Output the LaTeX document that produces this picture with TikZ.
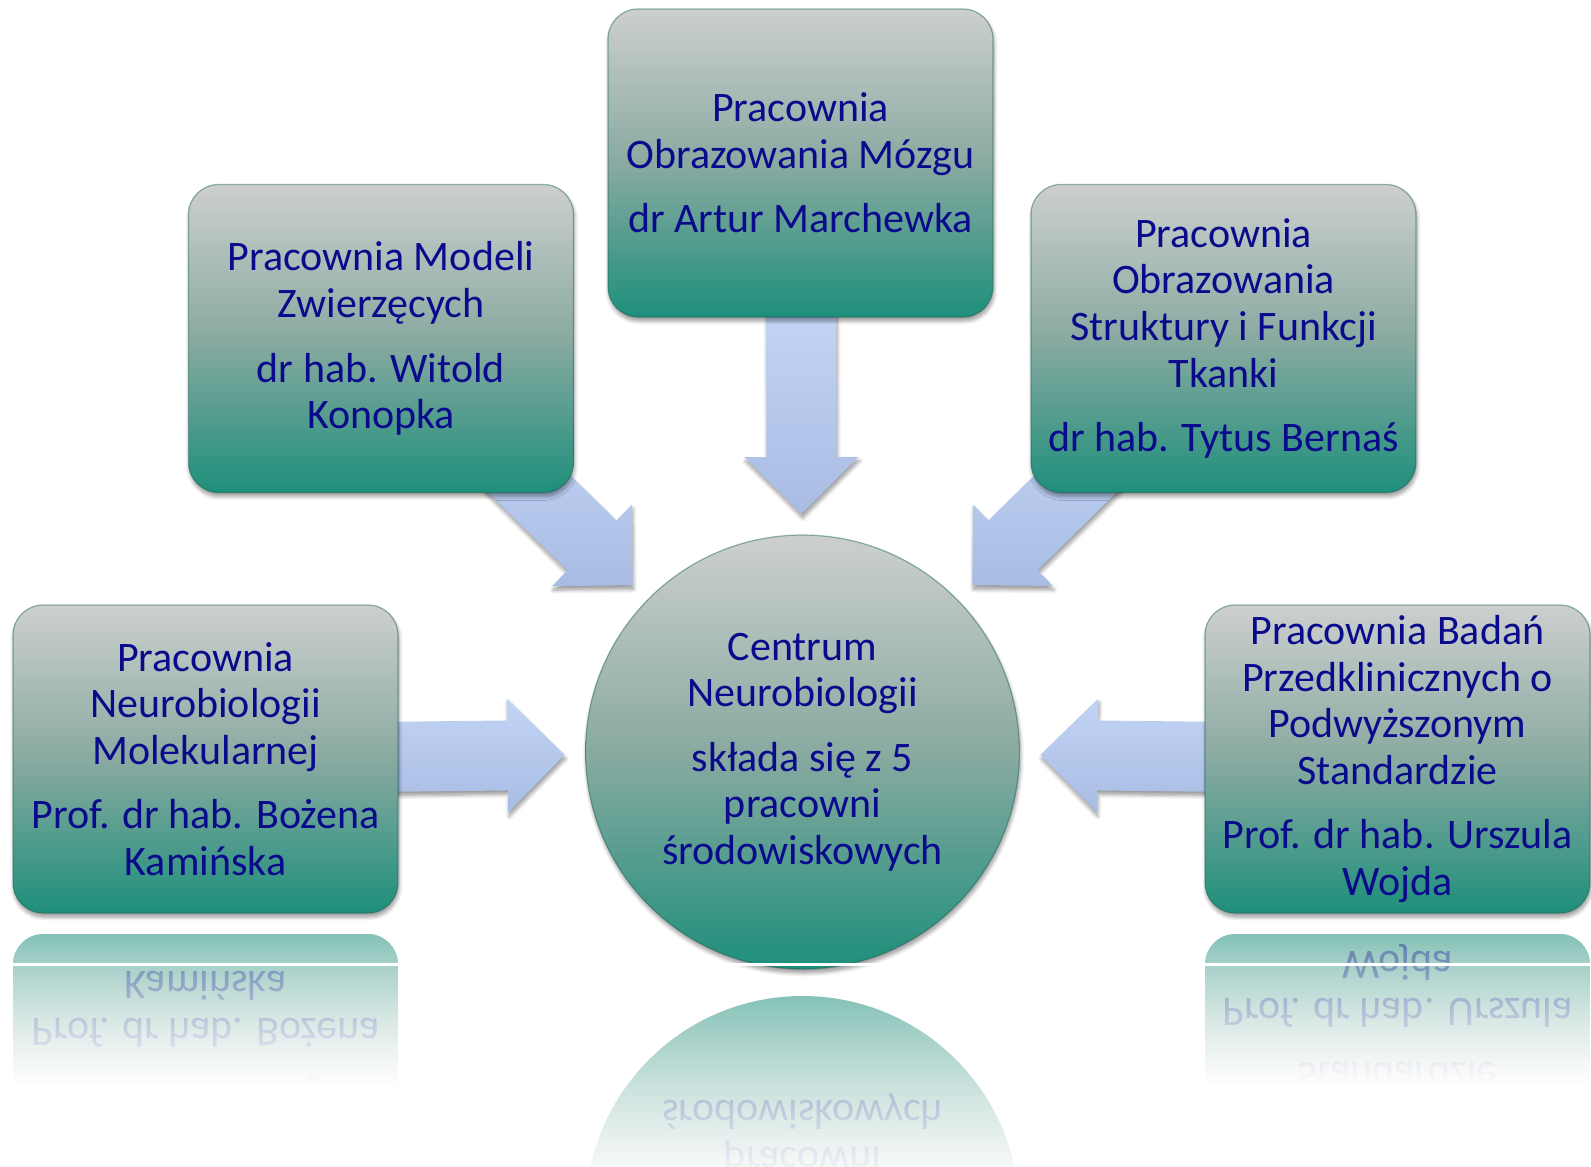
\documentclass[tikz,border=0pt]{standalone}
\usepackage{fontspec}
\setmainfont{Carlito}
\usetikzlibrary{calc}
\usetikzlibrary{backgrounds}
\usetikzlibrary{fadings}
\usetikzlibrary{shadows.blur}

\definecolor{labtop}{RGB}{205,207,206}
\definecolor{labmid}{RGB}{137,170,161}
\definecolor{labbot}{RGB}{30,143,123}
\definecolor{labedge}{RGB}{22,96,84}
\definecolor{labtext}{RGB}{10,10,140}
\definecolor{feedtop}{RGB}{194,212,245}
\definecolor{feedbot}{RGB}{168,188,227}

% white wash over the mirror images, clear at the top
\tikzfading[name=fade down, top color=transparent!100, bottom color=transparent!0]

% block arrow out of lab #1 into hub #2
\newcommand\feed[2]{%
  \path[feed] let \p1=($(#2.center)!119pt!(#1.center)$),  % tip
                  \p2=($(\p1)!28.5pt!(#1.center)$),       % head base
                  \p3=($(\p1)!100pt!(#1.center)$) in      % tail, hidden under the lab
    (\p1) -- ($(\p2)!28.5pt!90:(#1.center)$) -- ($(\p2)!17.5pt!90:(#1.center)$)
    -- ($(\p3)!17.5pt!90:(#1.center)$) -- ($(\p3)!17.5pt!-90:(#1.center)$)
    -- ($(\p2)!17.5pt!-90:(#1.center)$) -- ($(\p2)!28.5pt!-90:(#1.center)$) -- cycle;
}

\begin{document}
\begin{tikzpicture}[x=0.5pt, y=-0.5pt]
% -------------------------------------------------
\tikzset{
  lab/.style={rectangle, rounded corners=15pt, minimum width=192.5pt, minimum height=154pt,
    inner sep=2pt, align=center, text=labtext, font=\fontsize{21pt}{23.3pt}\selectfont,
    top color=labtop, bottom color=labbot, middle color=labmid,
    draw=labedge, draw opacity=0.45, line width=0.6pt},
  hub/.style={lab, circle, minimum size=217pt, inner sep=0pt},
  lift/.style={blur shadow={shadow xshift=0.5pt, shadow yshift=-2pt, shadow blur steps=6}},
  mirror/.style={top color=labbot, bottom color=labtop, middle color=labmid,
    fill opacity=0.55, text opacity=0.4, draw=none},
  feed/.style={top color=feedtop, bottom color=feedbot, lift}
}
% -------------------------------------------------
\useasboundingbox (0,0) rectangle (1591,1167);

% the five labs and the centre
\node [lab, lift] (p0) at (205.5,759)  {Pracownia\\ Neurobiologii\\ Molekularnej\\[9pt] Prof. dr hab. Bożena\\ Kamińska};
\node [lab, lift] (p1) at (381,338.5)  {Pracownia Modeli\\ Zwierzęcych\\[9pt] dr hab. Witold\\ Konopka};
\node [lab, lift] (p2) at (800.5,163)  {Pracownia\\ Obrazowania Mózgu\\[9pt] dr Artur Marchewka};
\node [lab, lift] (p3) at (1223.5,338.5) {Pracownia\\ Obrazowania\\ Struktury i Funkcji\\ Tkanki\\[9pt] dr hab. Tytus Bernaś};
\node [lab, lift] (p4) at (1397.5,759) {Pracownia Badań\\ Przedklinicznych o\\ Podwyższonym\\ Standardzie\\[9pt] Prof. dr hab. Urszula\\ Wojda};

\node [hub, lift] (c0) at (802.5,752) {Centrum\\ Neurobiologii\\[9pt] składa się z 5\\ pracowni\\ środowiskowych};

\begin{pgfonlayer}{background}
  \feed{p0}{c0}
  \feed{p1}{c0}
  \feed{p2}{c0}
  \feed{p3}{c0}
  \feed{p4}{c0}
\end{pgfonlayer}

% mirror images on the floor
\begin{scope}[shift={(0,1847)}, yscale=-1, transform shape]
  \node [lab, mirror] (r0) at (205.5,759)  {Pracownia\\ Neurobiologii\\ Molekularnej\\[9pt] Prof. dr hab. Bożena\\ Kamińska};
  \node [lab, mirror] (r4) at (1397.5,759) {Pracownia Badań\\ Przedklinicznych o\\ Podwyższonym\\ Standardzie\\[9pt] Prof. dr hab. Urszula\\ Wojda};
\end{scope}
\begin{scope}[shift={(0,1965)}, yscale=-1, transform shape]
  \node [hub, mirror] (r2) at (802.5,752) {Centrum\\ Neurobiologii\\[9pt] składa się z 5\\ pracowni\\ środowiskowych};
\end{scope}

\fill [white, path fading=fade down] (0,934) rectangle (425,1085);
\fill [white] (0,1085) rectangle (425,1167);
\fill [white, path fading=fade down] (1185,934) rectangle (1591,1085);
\fill [white] (1185,1085) rectangle (1591,1167);
\fill [white, path fading=fade down] (570,995) rectangle (1035,1190);

\fill [white] (0,963) rectangle (1591,965.5);

\end{tikzpicture}
\end{document}
